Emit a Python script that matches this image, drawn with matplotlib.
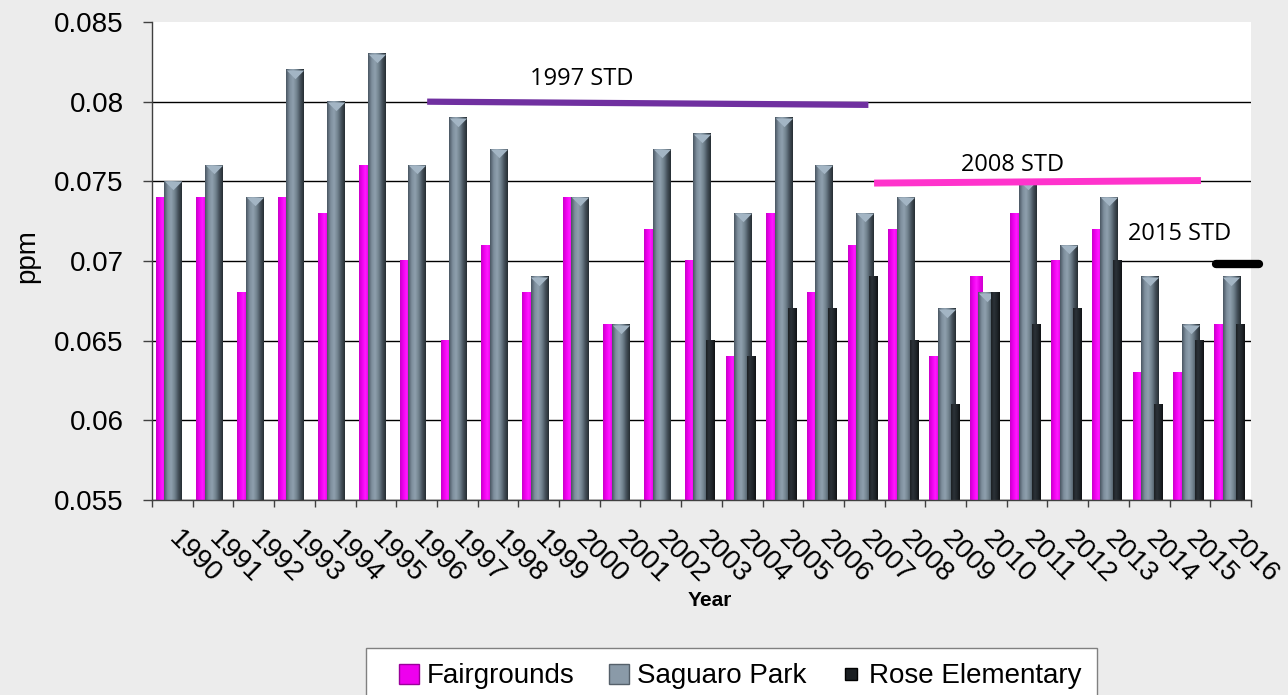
import numpy as np
import matplotlib
matplotlib.use("Agg")
import matplotlib.pyplot as plt
from matplotlib.lines import Line2D
from matplotlib.colors import LinearSegmentedColormap

# ---------------- data ----------------
years = [str(y) for y in range(1990, 2017)]
fairgrounds = [0.074, 0.074, 0.068, 0.074, 0.073, 0.076, 0.070, 0.065, 0.071, 0.068,
               0.074, 0.066, 0.072, 0.070, 0.064, 0.073, 0.068, 0.071, 0.072, 0.064,
               0.069, 0.073, 0.070, 0.072, 0.063, 0.063, 0.066]
saguaro = [0.075, 0.076, 0.074, 0.082, 0.080, 0.083, 0.076, 0.079, 0.077, 0.069,
           0.074, 0.066, 0.077, 0.078, 0.073, 0.079, 0.076, 0.073, 0.074, 0.067,
           0.068, 0.075, 0.071, 0.074, 0.069, 0.066, 0.069]
rose = [np.nan] * 13 + [0.065, 0.064, 0.067, 0.067, 0.069, 0.065, 0.061, 0.068,
                        0.066, 0.067, 0.070, 0.061, 0.065, 0.066]
series_names = ["Fairgrounds", "Saguaro Park", "Rose Elementary"]

std_labels = ["1997 STD", "2008 STD", "2015 STD"]
std_x = [(6.76, 17.6), (17.74, 25.77), (26.14, 27.2)]
std_y = [(0.0800, 0.0798), (0.07489, 0.07505), (0.0698, 0.0698)]
std_label_x = [10.57, 21.14, 25.25]
std_label_y = [0.08142, 0.07605, 0.07168]

y_min, y_max = 0.055, 0.085

# ---------------- style ----------------
plt.rcParams["font.family"] = ["Liberation Sans", "DejaVu Sans"]

fig = plt.figure(figsize=(12.88, 6.95), dpi=100, facecolor="#ececec")
ax = fig.add_axes([152 / 1288, 1 - 500 / 695, (1251 - 152) / 1288, 478 / 695])
ax.set_facecolor("white")

n = len(years)
x = np.arange(n)

grad = np.linspace(0, 1, 64).reshape(1, -1)


def gradient_bars(left, width, values, stops, zorder):
    cmap = LinearSegmentedColormap.from_list("g", stops)
    vals = np.array(values, dtype=float)
    bars = ax.bar(left, vals - y_min, width, bottom=y_min, align="edge",
                  color=stops[len(stops) // 2], lw=0, zorder=zorder)
    for rect in bars:
        h = rect.get_height()
        if not np.isfinite(h):
            continue
        x0 = rect.get_x()
        w = rect.get_width()
        y0 = rect.get_y()
        ax.imshow(grad, cmap=cmap, extent=[x0, x0 + w, y0, y0 + h], aspect="auto",
                  zorder=zorder, interpolation="bilinear")
    return bars


mag_stops = ["#c800c8", "#f000f0", "#ff1aff", "#e600e6", "#d000d0"]
gray_stops = ["#4a5662", "#7d8e9c", "#8fa0ae", "#72838f", "#46525c", "#262d33"]
black_stops = ["#1b1f23", "#2c3238", "#20252a", "#101214"]

gradient_bars(x + 0.09, 0.30, fairgrounds, mag_stops, 2)
gradient_bars(x + 0.30, 0.44, saguaro, gray_stops, 3)
gradient_bars(x + 0.62, 0.22, rose, black_stops, 4)

# light triangle caps on Saguaro Park bars
ax.plot(x + 0.52, saguaro, ls="none", marker=[(-1, 0), (1, 0), (0, -1)], ms=12.5,
        mfc="#a3b5c4", mec="none", zorder=3.5)

# standard lines
std_colors = ["#7030a0", "#ff33cc", "#000000"]
std_lw = [4.5, 5.0, 6.0]
std_caps = ["butt", "butt", "round"]
for k in range(3):
    ax.plot(std_x[k], std_y[k], color=std_colors[k], lw=std_lw[k],
            solid_capstyle=std_caps[k], clip_on=False, zorder=6)
    ax.text(std_label_x[k], std_label_y[k], std_labels[k], ha="center", va="center",
            fontsize=17, family=["Open Sans", "DejaVu Sans"], zorder=7)

# axes
ax.set_xlim(0, n)
ax.set_ylim(y_min, y_max)
yt = np.arange(y_min, y_max + 0.0001, 0.005)
ax.set_yticks(yt)
ax.set_yticklabels([("%.3f" % v).rstrip("0") for v in yt])
ax.yaxis.grid(True, color="#000000", lw=1.0)
ax.set_axisbelow(True)
ax.get_ygridlines()[-1].set_visible(False)
ax.tick_params(axis="y", length=6.5, width=1, color="#404040", pad=14, labelsize=20)

ax.set_xticks(x + 0.5)
ax.set_xticklabels(years)
ax.set_xticks(np.arange(n + 1), minor=True)
ax.tick_params(axis="x", which="major", length=0, pad=25, labelsize=20)
ax.tick_params(axis="x", which="minor", length=5, width=1, color="#404040")
for lab in ax.get_xticklabels():
    lab.set_rotation(-45)
    lab.set_rotation_mode("anchor")
    lab.set_ha("left")
    lab.set_va("center")

for s in ["top", "right"]:
    ax.spines[s].set_visible(False)
for s in ["left", "bottom"]:
    ax.spines[s].set_color("#404040")
    ax.spines[s].set_linewidth(1)
    ax.spines[s].set_zorder(5)

ax.set_xlabel("Year", fontsize=15, fontweight="bold")
ax.xaxis.set_label_coords(0.508, -0.21)
ax.xaxis.label.set_va("center")
ax.set_ylabel("ppm", fontsize=20)
ax.yaxis.set_label_coords(-0.114, 0.51)
ax.yaxis.label.set_va("center")

handles = [
    Line2D([], [], ls="none", marker="s", ms=15, mfc="#ee00ee", mec="#9a009a"),
    Line2D([], [], ls="none", marker="s", ms=15, mfc="#8a9aa8", mec="#55606a"),
    Line2D([], [], ls="none", marker="s", ms=9, mfc="#1a1e22", mec="#000000"),
]
leg = fig.legend(handles, series_names, loc="upper left",
                 bbox_to_anchor=(366 / 1288, 1 - 648 / 695), borderaxespad=0,
                 ncol=3, frameon=True,
                 fancybox=False, edgecolor="#808080", facecolor="white", framealpha=1,
                 fontsize=20, borderpad=0.55, handlelength=2.0, handletextpad=-0.35,
                 columnspacing=0.6)
leg.get_frame().set_linewidth(1.0)

fig.savefig("out.png", dpi=100, facecolor=fig.get_facecolor())
